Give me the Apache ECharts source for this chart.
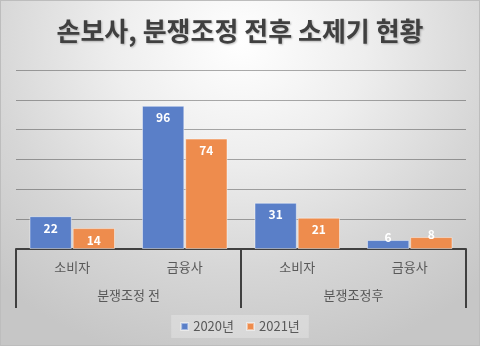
<!DOCTYPE html>
<html>
<head>
<meta charset="utf-8">
<script src="https://cdn.jsdelivr.net/npm/echarts@6/dist/echarts.min.js"></script>
<style>
  html, body { margin: 0; padding: 0; }
  #chart {
    width: 478px; height: 344px;
    border: 1px solid #bdbdbd;
    background: radial-gradient(ellipse 75% 95% at 50% 12%, #ffffff 0%, #eeeeee 35%, #d6d6d6 70%, #c6c6c6 100%);
  }
</style>
</head>
<body>
<div id="chart"></div>
<script>
// Lawsuits filed by non-life insurers, before / after dispute mediation
const titleText = '손보사, 분쟁조정 전후 소제기 현황';
const categories = ['소비자', '금융사', '소비자', '금융사'];
const groups = ['분쟁조정 전', '분쟁조정후'];
const seriesNames = ['2020년', '2021년'];
const values2020 = [22, 96, 31, 6];
const values2021 = [14, 74, 21, 8];

const font = 'Noto Sans CJK KR';

// short bars get their value printed just over the top edge
function barData(values) {
  return values.map(v => v < 10
    ? { value: v, label: { position: 'top', distance: -3 } }
    : v);
}

const chart = echarts.init(document.getElementById('chart'), null, { renderer: 'canvas' });
chart.setOption({
  backgroundColor: 'transparent',
  animation: false,
  textStyle: { fontFamily: font },
  title: {
    text: titleText,
    left: 'center',
    top: 12,
    textStyle: {
      fontFamily: font, fontSize: 26, fontWeight: 'bold', color: '#404040',
      textShadowColor: 'rgba(0,0,0,0.25)', textShadowBlur: 2,
      textShadowOffsetX: 1, textShadowOffsetY: 1
    }
  },
  legend: {
    bottom: 7,
    left: 'center',
    data: seriesNames,
    icon: 'rect',
    itemWidth: 7, itemHeight: 7, itemGap: 12,
    padding: [5, 9],
    backgroundColor: 'rgba(255,255,255,0.25)',
    textStyle: { fontFamily: font, fontSize: 13, color: '#595959' }
  },
  grid: { left: 15, right: 13, top: 69, bottom: 96, containLabel: false },
  xAxis: [
    {
      type: 'category',
      data: categories,
      position: 'bottom',
      axisLine: { show: true, lineStyle: { color: '#404040', width: 2 } },
      axisTick: { show: false },
      axisLabel: { margin: 12, fontFamily: font, fontSize: 13, color: '#595959' }
    },
    {
      type: 'category',
      data: groups,
      position: 'bottom',
      axisLine: { show: false },
      axisTick: { show: true, length: 59, interval: 0, lineStyle: { color: '#404040', width: 2 } },
      axisLabel: { margin: 40, fontFamily: font, fontSize: 13, color: '#595959' }
    }
  ],
  yAxis: {
    type: 'value',
    min: 0, max: 120, interval: 20,
    axisLine: { show: false },
    axisTick: { show: false },
    axisLabel: { show: false },
    splitLine: { lineStyle: { color: 'rgba(0,0,0,0.32)', width: 1 } }
  },
  series: [
    {
      name: seriesNames[0],
      type: 'bar',
      data: barData(values2020),
      barGap: '2%',
      barCategoryGap: '24%',
      itemStyle: { color: '#5a7fc8', borderColor: 'rgba(255,255,255,0.45)', borderWidth: 1 },
      label: { show: true, position: 'insideTop', distance: 6, color: '#ffffff',
               fontFamily: font, fontSize: 12, fontWeight: 'bold' }
    },
    {
      name: seriesNames[1],
      type: 'bar',
      data: barData(values2021),
      itemStyle: { color: '#ee8c4d', borderColor: 'rgba(255,255,255,0.45)', borderWidth: 1 },
      label: { show: true, position: 'insideTop', distance: 6, color: '#ffffff',
               fontFamily: font, fontSize: 12, fontWeight: 'bold' }
    }
  ]
});
</script>
</body>
</html>
